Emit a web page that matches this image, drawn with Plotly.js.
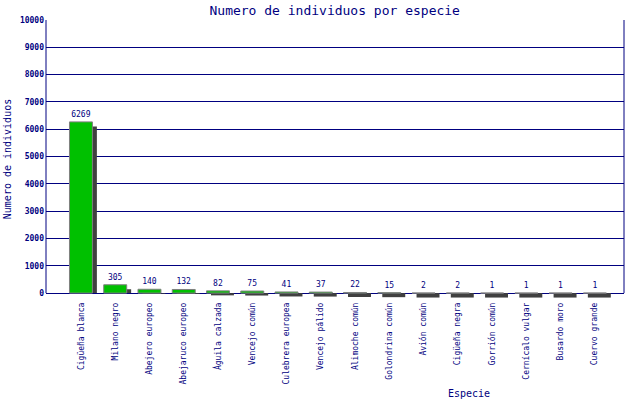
<!DOCTYPE html>
<html><head><meta charset="utf-8">
<script src="https://cdn.plot.ly/plotly-3.0.1.min.js"></script>
<style>html,body{margin:0;padding:0;background:#fff}#c{width:640px;height:400px}</style>
</head><body><div id="c"></div>
<script>
const categories = ["Cigüeña blanca","Milano negro","Abejero europeo","Abejaruco europeo","Águila calzada","Vencejo común","Culebrera europea","Vencejo pálido","Alimoche común","Golondrina común","Avión común","Cigüeña negra","Gorrión común","Cernícalo vulgar","Busardo moro","Cuervo grande"];
const counts = [6269,305,140,132,82,75,41,37,22,15,2,2,1,1,1,1];
const yTicks = [0,1000,2000,3000,4000,5000,6000,7000,8000,9000,10000];

const navy = '#000080';
const mono = 'DejaVu Sans Mono';
const shadowDrop = 165;

const shadow = {
  type: 'bar', x: categories, y: counts.map(v => v - shadowDrop), base: 0,
  width: 0.67, offset: -0.205,
  marker: {color: '#404040', line: {width: 0}},
  hoverinfo: 'skip', showlegend: false
};
const main = {
  type: 'bar', x: categories, y: counts,
  width: 0.67, offset: -0.335,
  marker: {color: '#00c000', line: {color: '#808080', width: 1}},
  text: counts.map(String), textposition: 'outside', cliponaxis: false,
  textfont: {family: mono, size: 8, color: navy},
  showlegend: false
};

const layout = {
  width: 640, height: 400,
  margin: {l: 46, r: 16, t: 20, b: 102},
  paper_bgcolor: '#fff', plot_bgcolor: '#fff',
  barmode: 'overlay',
  title: {text: 'Numero de individuos por especie', font: {family: mono, size: 13, color: navy}, x: 0.523, xanchor: 'center', y: 0.985, yanchor: 'top'},
  xaxis: {
    type: 'category', range: [-1.02, 15.85], tickangle: -90,
    tickfont: {family: mono, size: 8, color: navy},
    showgrid: false, showline: false, zeroline: false, ticks: '',
    ticklabelstandoff: 2
  },
  yaxis: {
    range: [-180, 10000], tickvals: yTicks, ticktext: yTicks.map(String),
    tickfont: {family: mono, size: 8, color: navy, weight: 'bold'},
    showgrid: true, gridcolor: navy, gridwidth: 1,
    zeroline: true, zerolinecolor: navy, zerolinewidth: 1,
    showline: false, ticks: '', ticklabelstandoff: 1,
    title: {text: 'Numero de individuos', font: {family: mono, size: 10, color: navy}, standoff: 6}
  },
  annotations: [
    {text: 'Especie', xref: 'paper', yref: 'paper', x: 0.732, y: -0.345, xanchor: 'center', yanchor: 'middle', showarrow: false, font: {family: mono, size: 10, color: navy}}
  ],
  shapes: [
    {type: 'line', xref: 'paper', yref: 'y', x0: 0, x1: 0, y0: 0, y1: 10000, line: {color: navy, width: 1}},
    {type: 'line', xref: 'paper', yref: 'y', x0: 1, x1: 1, y0: 0, y1: 10000, line: {color: navy, width: 1}}
  ]
};
Plotly.newPlot('c', [shadow, main], layout, {displayModeBar: false, staticPlot: true});
</script></body></html>
